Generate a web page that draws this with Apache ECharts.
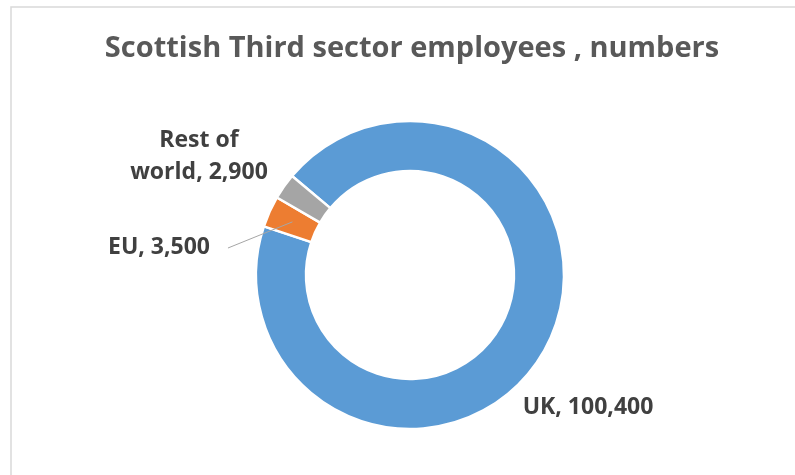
<!DOCTYPE html>
<html>
<head>
<meta charset="utf-8">
<script src="https://cdn.jsdelivr.net/npm/echarts@6/dist/echarts.min.js"></script>
<style>
html,body{margin:0;padding:0;background:#fff;}
#chart{width:795px;height:475px;}
</style>
</head>
<body>
<div id="chart"></div>
<script>
const chartTitle = 'Scottish Third sector employees , numbers';
const categories = ['UK', 'EU', 'Rest of world'];
const employees = [100400, 3500, 2900];
const sliceColors = ['#5B9BD5', '#ED7D31', '#A5A5A5'];

const fmt = v => v.toLocaleString('en-GB');

const pieCenter = [410, 275];
const pieRadius = [104, 154];
const startAngle = 140;
const labelFont = { family: 'Open Sans', weight: 'bold', size: 23 };

const labelPlace = [
  { x: 588, y: 407 },
  { x: 159, y: 247 },
  { x: 199, y: 156 }
];

const labelText = (name, value) =>
  name === 'Rest of world' ? 'Rest of\nworld, ' + fmt(value) : name + ', ' + fmt(value);

// point at a slice's middle angle, radius r
const total = employees.reduce((a, b) => a + b, 0);
function midPoint(idx, r) {
  let before = 0;
  for (let i = 0; i < idx; i++) before += employees[i];
  const frac = (before + employees[idx] / 2) / total;
  const ang = (startAngle - frac * 360) * Math.PI / 180;
  return [pieCenter[0] + r * Math.cos(ang), pieCenter[1] - r * Math.sin(ang)];
}

function textWidth(str) {
  const c = document.createElement('canvas').getContext('2d');
  c.font = labelFont.weight + ' ' + labelFont.size + 'px "' + labelFont.family + '"';
  return c.measureText(str).width;
}

// leader line for EU label (drawn above the slices)
const euIdx = categories.indexOf('EU');
const euPl = labelPlace[euIdx];
const euStart = [euPl.x + textWidth(labelText('EU', employees[euIdx])) / 2 + 18, euPl.y + 1];
const euEnd = midPoint(euIdx, (pieRadius[0] + pieRadius[1]) / 2);

const chart = echarts.init(document.getElementById('chart'));
chart.setOption({
  backgroundColor: '#ffffff',
  animation: false,
  title: {
    text: chartTitle,
    left: 407,
    top: 29,
    textAlign: 'center',
    textStyle: { fontFamily: 'Open Sans', fontWeight: 'bold', fontSize: 29, color: '#595959' }
  },
  graphic: [{
    type: 'rect',
    shape: { x: 11, y: 7, width: 800, height: 500 },
    style: { fill: 'none', stroke: '#d9d9d9', lineWidth: 1.5 },
    silent: true
  }, {
    type: 'polyline',
    z: 100,
    shape: { points: [euStart, euEnd] },
    style: { fill: 'none', stroke: '#a6a6a6', lineWidth: 1 },
    silent: true
  }],
  series: [{
    type: 'pie',
    center: pieCenter,
    radius: pieRadius,
    startAngle: startAngle,
    clockwise: true,
    avoidLabelOverlap: false,
    itemStyle: { borderColor: '#ffffff', borderWidth: 2.5 },
    label: {
      show: true,
      position: 'outside',
      fontFamily: labelFont.family,
      fontWeight: labelFont.weight,
      fontSize: labelFont.size,
      lineHeight: 32,
      color: '#404040',
      formatter: p => labelText(p.name, p.value)
    },
    labelLine: { show: false },
    labelLayout: p => {
      const pl = labelPlace[p.dataIndex];
      return { x: pl.x, y: pl.y, align: 'center', verticalAlign: 'middle' };
    },
    data: categories.map((c, i) => ({
      name: c,
      value: employees[i],
      itemStyle: { color: sliceColors[i] }
    }))
  }]
});
</script>
</body>
</html>
